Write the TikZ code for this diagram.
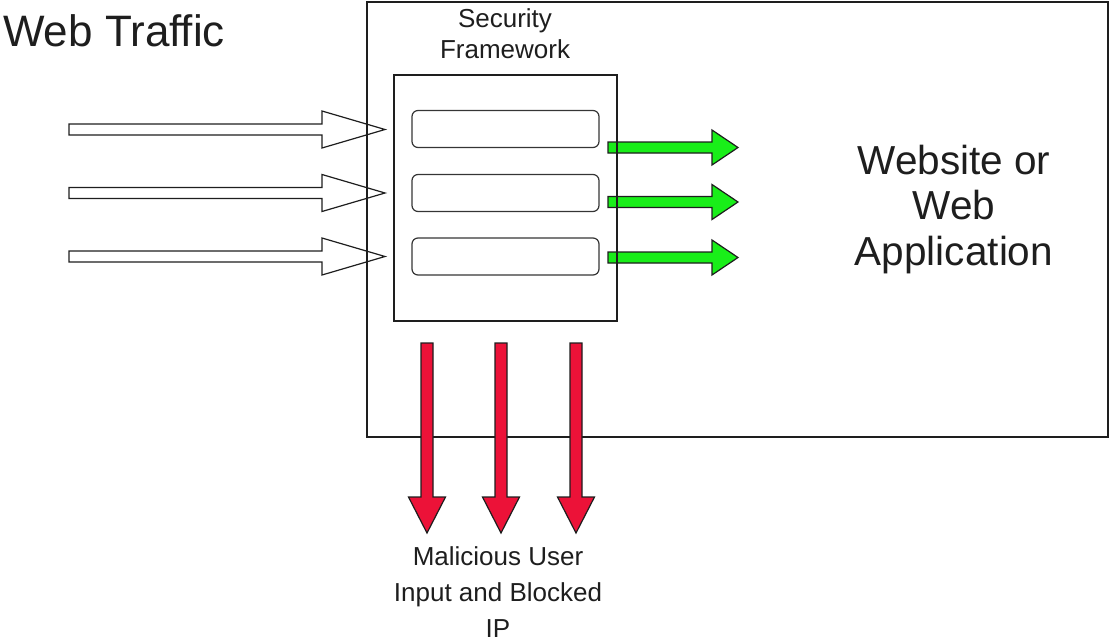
\documentclass[tikz,border=0pt]{standalone}
\usepackage{fontspec}
\setmainfont{Liberation Sans}
\definecolor{okgreen}{RGB}{25,238,25}
\definecolor{badred}{RGB}{236,18,56}
\definecolor{ink}{RGB}{30,30,30}
\newcommand\hblock[7]{\draw[#1] (#2,#5-#6) -- (#3,#5-#6) -- (#3,#5-#7) -- (#4,#5) -- (#3,#5+#7) -- (#3,#5+#6) -- (#2,#5+#6) -- cycle;}
\newcommand\vblock[7]{\draw[#1] (#5-#6,#2) -- (#5-#6,#3) -- (#5-#7,#3) -- (#5,#4) -- (#5+#7,#3) -- (#5+#6,#3) -- (#5+#6,#2) -- cycle;}
\begin{document}
\begin{tikzpicture}[x=1pt,y=-1pt,
  box/.style={draw=ink, line width=1.3pt, inner sep=0pt, outer sep=0pt},
  slot/.style={draw=ink!90, line width=1.2pt, rounded corners=6pt, inner sep=0pt, minimum width=187pt, minimum height=37pt},
  txt/.style={text=ink, inner sep=0pt, align=center},
  inarrow/.style={draw=ink, fill=white, line width=1.2pt, line join=miter},
  okarrow/.style={draw=ink, fill=okgreen, line width=1.2pt, line join=miter},
  badarrow/.style={draw=ink, fill=badred, line width=1.2pt, line join=miter}]
\useasboundingbox (0,0) rectangle (1110,642);
% incoming traffic arrows
\hblock{inarrow}{69}{322}{385}{129.5}{5.5}{18.5}
\hblock{inarrow}{69}{322}{385}{193}{5.5}{18.5}
\hblock{inarrow}{69}{322}{385}{256.5}{5.5}{18.5}
% allowed traffic arrows
\hblock{okarrow}{608}{712}{738}{147.5}{5.5}{17.5}
\hblock{okarrow}{608}{712}{738}{202}{5.5}{17.5}
\hblock{okarrow}{608}{712}{738}{257.5}{5.5}{17.5}
% boxes
\node[box, anchor=north west, minimum width=741pt, minimum height=435pt] (app) at (367,2) {};
\node[box, anchor=north west, minimum width=223pt, minimum height=246pt] (sec) at (394,75) {};
\node[slot] (s1) at (505.5,129) {};
\node[slot] (s2) at (505.5,193) {};
\node[slot] (s3) at (505.5,256.5) {};
% blocked arrows
\vblock{badarrow}{343}{497}{533}{427}{6}{18.5}
\vblock{badarrow}{343}{497}{533}{501}{6}{18.5}
\vblock{badarrow}{343}{497}{533}{576}{6}{18.5}
% texts
\node[txt, anchor=base west, font=\fontsize{44}{50}\selectfont] (traffic) at (3,47) {Web Traffic};
\node[txt, anchor=base, font=\fontsize{26}{31}\selectfont] (sftext) at (505,59) {Security\\Framework};
\node[txt, anchor=base, font=\fontsize{40.5}{45.5}\selectfont] (webtext) at (954,265) {Website or\\Web\\Application};
\node[txt, anchor=base, font=\fontsize{26}{36}\selectfont] (maltext) at (498,637) {Malicious User\\Input and Blocked\\IP};
\end{tikzpicture}
\end{document}
